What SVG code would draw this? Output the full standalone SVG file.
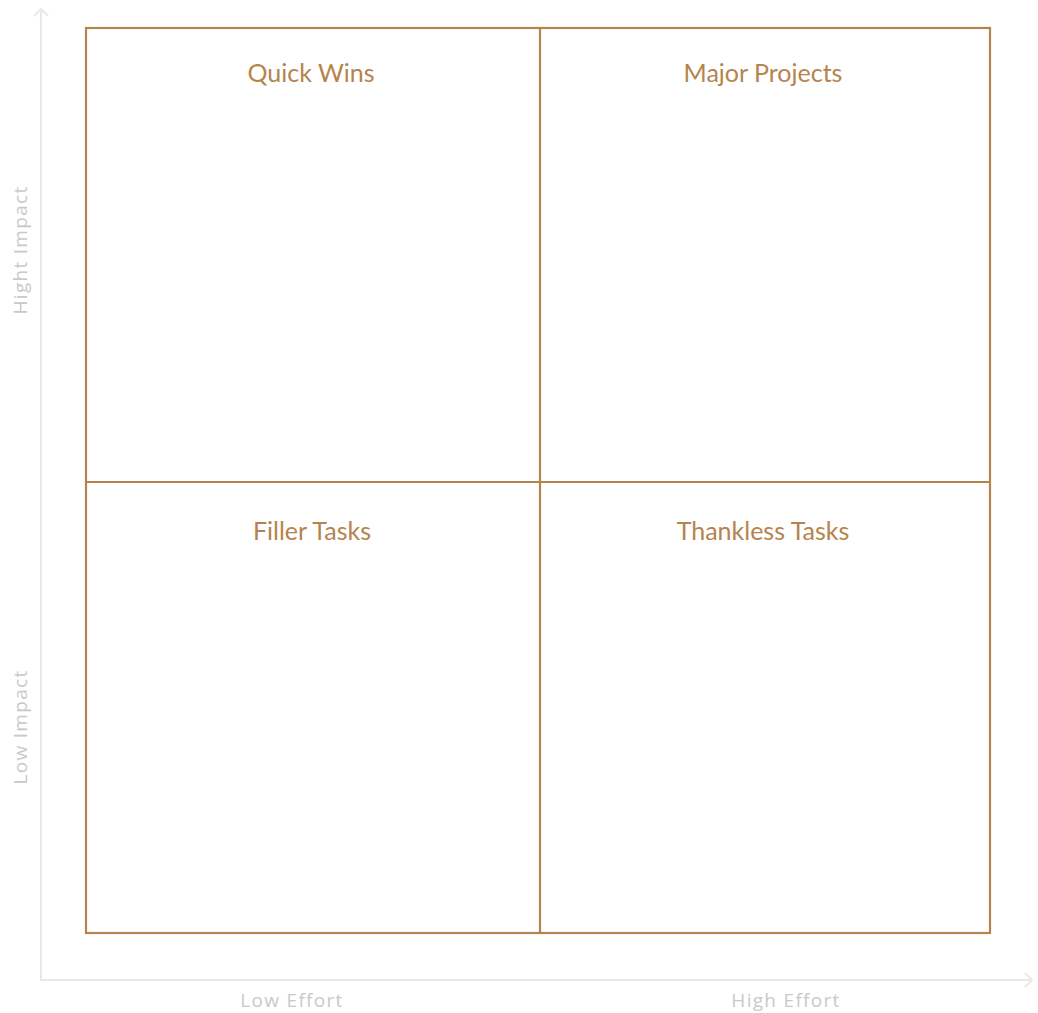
<svg xmlns="http://www.w3.org/2000/svg" width="1038" height="1013" viewBox="0 0 1038 1013">
  <style>
    .axis { stroke: #ece7e2; stroke-width: 2; fill: none; }
    .grid { stroke: #b5844e; stroke-width: 2.2; fill: none; }
    .title { font-family: "Lato", "Open Sans", sans-serif; font-size: 25px; fill: #b5844e; text-anchor: middle; }
    .axis-label { font-family: "Open Sans", "DejaVu Sans", sans-serif; font-size: 19px; letter-spacing: 1.3px; fill: #c9c9c9; text-anchor: middle; }
  </style>
  <rect width="1038" height="1013" fill="#ffffff"/>

  <!-- axes -->
  <g id="axes">
    <polyline class="axis" points="41,9 41,980 1032,980"/>
    <polyline class="axis" points="34,16 41,9 48,16"/>
    <polyline class="axis" points="1025,973 1032,980 1025,987"/>
  </g>

  <!-- quadrant grid -->
  <g id="connectors">
    <rect class="grid" x="86" y="28" width="904" height="905"/>
    <line class="grid" x1="540" y1="28" x2="540" y2="933"/>
    <line class="grid" x1="86" y1="482" x2="990" y2="482"/>
  </g>

  <g id="quick-wins"><text class="title" x="311" y="82">Quick Wins</text></g>
  <g id="major-projects"><text class="title" x="763" y="82">Major Projects</text></g>
  <g id="filler-tasks"><text class="title" x="312" y="540">Filler Tasks</text></g>
  <g id="thankless-tasks"><text class="title" x="763" y="540">Thankless Tasks</text></g>

  <g id="axis-labels">
    <text class="axis-label" x="292" y="1007">Low Effort</text>
    <text class="axis-label" x="786" y="1007">High Effort</text>
    <text class="axis-label" transform="translate(21,250) rotate(-90)" y="6">Hight Impact</text>
    <text class="axis-label" transform="translate(21,727) rotate(-90)" y="6">Low Impact</text>
  </g>
</svg>
